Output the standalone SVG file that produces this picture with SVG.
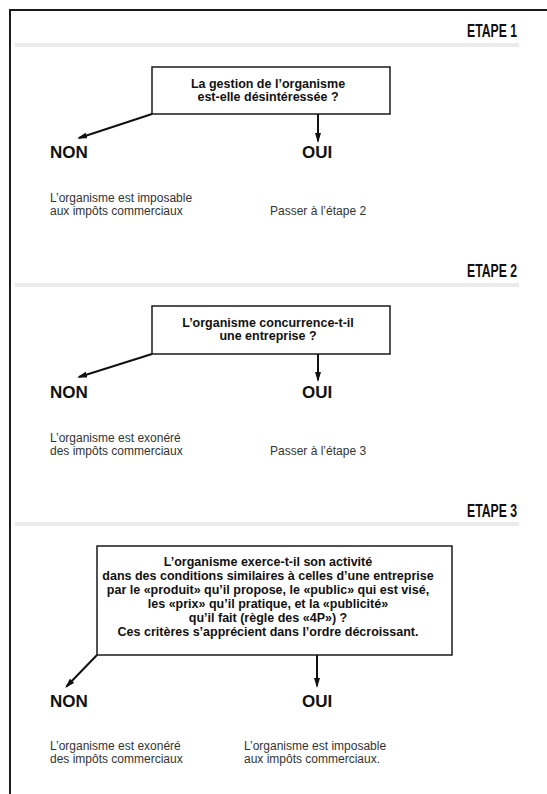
<svg xmlns="http://www.w3.org/2000/svg" width="547" height="794" viewBox="0 0 547 794">
<defs>
<style>
.frame{fill:none;stroke:#1a1a1a;stroke-width:2}
.band{fill:#ebebeb}
.etape{font-family:"Liberation Sans",Arial,sans-serif;font-weight:bold;font-size:18px;fill:#111;text-anchor:end}
.box{fill:#fff;stroke:#1a1a1a;stroke-width:1.5}
.q{font-family:"Liberation Sans",Arial,sans-serif;font-weight:bold;font-size:12.5px;fill:#111;text-anchor:middle}
.ans{font-family:"Liberation Sans",Arial,sans-serif;font-weight:bold;font-size:17px;fill:#111}
.desc{font-family:"Liberation Sans",Arial,sans-serif;font-size:12px;fill:#333}
.conn{fill:none;stroke:#111;stroke-width:2;marker-end:url(#ah)}
</style>
<marker id="ah" viewBox="0 0 10 6" markerWidth="10" markerHeight="6" refX="8" refY="3" orient="auto" markerUnits="userSpaceOnUse">
<path d="M0,0 L10,3 L0,6 z" fill="#111"/>
</marker>
</defs>
<path class="frame" d="M10,794 V10 H547"/>

<g id="etape1">
<text class="etape" x="517" y="37" textLength="50" lengthAdjust="spacingAndGlyphs">ETAPE 1</text>
<rect class="band" x="15" y="43" width="504" height="4"/>
</g>
<g id="q1">
<rect class="box" x="152" y="67" width="238" height="47"/>
<text class="q" x="268" y="88">La gestion de l’organisme</text>
<text class="q" x="268" y="101">est-elle désintéressée ?</text>
</g>
<g id="non1">
<text class="ans" x="50" y="158">NON</text>
<text class="desc" x="50" y="202">L’organisme est imposable</text>
<text class="desc" x="50" y="215">aux impôts commerciaux</text>
</g>
<g id="oui1">
<text class="ans" x="302" y="158">OUI</text>
<text class="desc" x="270" y="215">Passer à l’étape 2</text>
</g>

<g id="etape2">
<text class="etape" x="517" y="277" textLength="50" lengthAdjust="spacingAndGlyphs">ETAPE 2</text>
<rect class="band" x="15" y="283" width="504" height="4"/>
</g>
<g id="q2">
<rect class="box" x="152" y="306" width="238" height="48"/>
<text class="q" x="268" y="327">L’organisme concurrence-t-il</text>
<text class="q" x="268" y="340">une entreprise ?</text>
</g>
<g id="non2">
<text class="ans" x="50" y="398">NON</text>
<text class="desc" x="50" y="442">L’organisme est exonéré</text>
<text class="desc" x="50" y="455">des impôts commerciaux</text>
</g>
<g id="oui2">
<text class="ans" x="302" y="398">OUI</text>
<text class="desc" x="270" y="455">Passer à l’étape 3</text>
</g>

<g id="etape3">
<text class="etape" x="517" y="517" textLength="50" lengthAdjust="spacingAndGlyphs">ETAPE 3</text>
<rect class="band" x="15" y="522" width="504" height="4"/>
</g>
<g id="q3">
<rect class="box" x="97" y="546" width="355" height="109"/>
<text class="q" x="268" y="566">L’organisme exerce-t-il son activité</text>
<text class="q" x="268" y="580">dans des conditions similaires à celles d’une entreprise</text>
<text class="q" x="268" y="594">par le «produit» qu’il propose, le «public» qui est visé,</text>
<text class="q" x="268" y="608">les «prix» qu’il pratique, et la «publicité»</text>
<text class="q" x="268" y="622">qu’il fait (règle des «4P») ?</text>
<text class="q" x="268" y="636">Ces critères s’apprécient dans l’ordre décroissant.</text>
</g>
<g id="non3">
<text class="ans" x="50" y="707">NON</text>
<text class="desc" x="50" y="750">L’organisme est exonéré</text>
<text class="desc" x="50" y="763">des impôts commerciaux</text>
</g>
<g id="oui3">
<text class="ans" x="302" y="707">OUI</text>
<text class="desc" x="244" y="750">L’organisme est imposable</text>
<text class="desc" x="244" y="763">aux impôts commerciaux.</text>
</g>

<g id="connectors">
<line class="conn" x1="152" y1="114" x2="79" y2="138"/>
<line class="conn" x1="318" y1="114" x2="318" y2="141"/>
<line class="conn" x1="152" y1="354" x2="79" y2="377"/>
<line class="conn" x1="318" y1="354" x2="318" y2="380"/>
<line class="conn" x1="97" y1="655" x2="66.5" y2="686.5"/>
<line class="conn" x1="317" y1="655" x2="317" y2="686"/>
</g>
</svg>
